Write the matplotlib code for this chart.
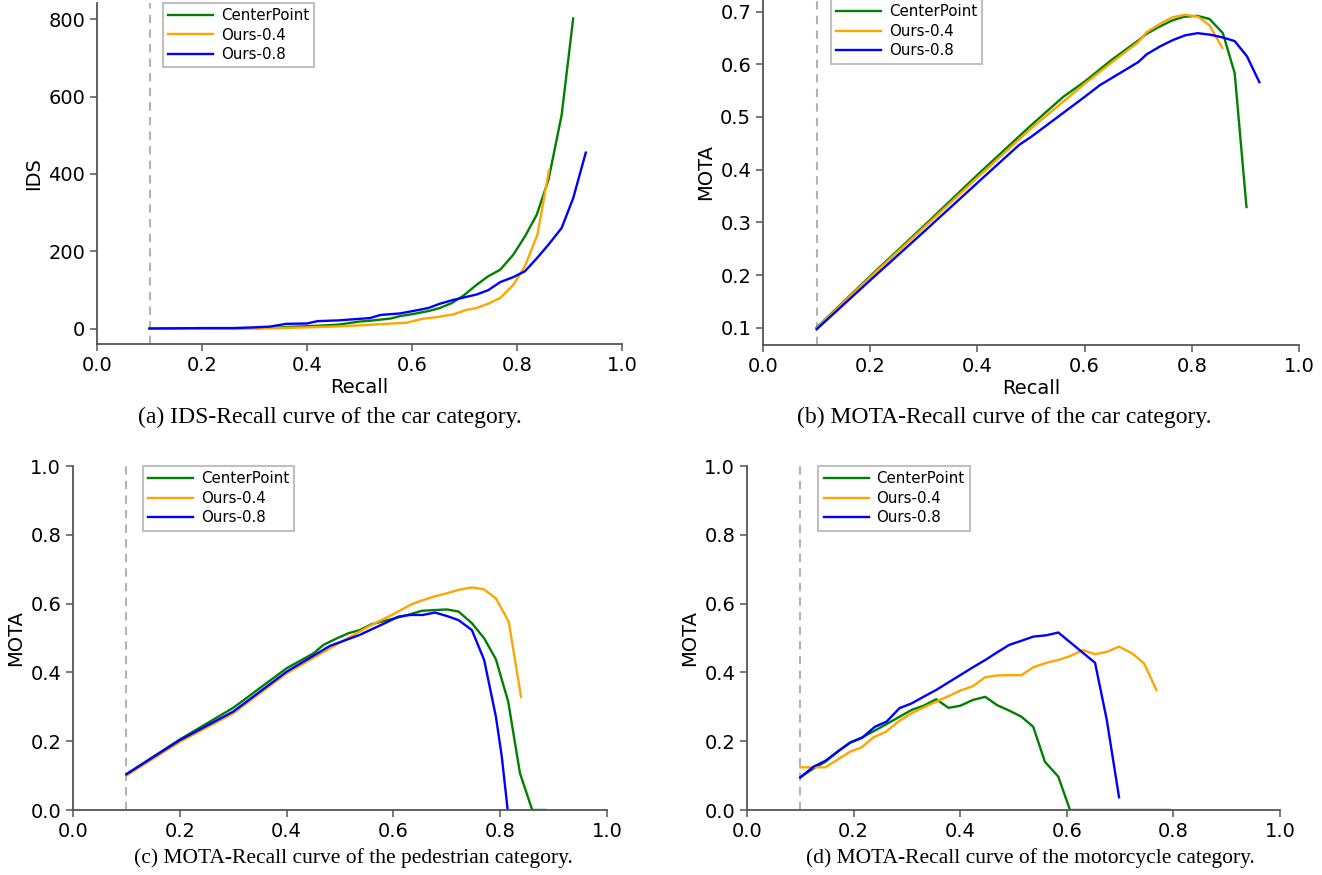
import matplotlib
matplotlib.use("Agg")
import matplotlib.pyplot as plt

plt.rcParams['font.family'] = ['DejaVu Sans']

labels = ["CenterPoint", "Ours-0.4", "Ours-0.8"]
colors = ["green", "orange", "blue"]

# (a) IDS-Recall, car
a_cp_r = [0.1, 0.2, 0.3, 0.34, 0.38, 0.42, 0.46, 0.48, 0.50, 0.52, 0.56, 0.577, 0.6, 0.631,
          0.653, 0.676, 0.698, 0.723, 0.745, 0.768, 0.793, 0.815, 0.8375, 0.86, 0.885, 0.907]
a_cp_v = [0, 1, 1, 2, 5, 7, 10, 14, 18, 20, 26, 32, 37, 45,
          53, 66, 85, 113, 135, 152, 191, 238, 294, 385, 552, 802]
a_o4_r = [0.1, 0.2, 0.3, 0.35, 0.4, 0.45, 0.5, 0.55, 0.59, 0.62, 0.65, 0.68, 0.70, 0.723,
          0.745, 0.768, 0.793, 0.815, 0.839, 0.861]
a_o4_v = [0, 0, 0, 1, 3, 5, 8, 12, 15, 25, 30, 37, 47, 53,
          64, 79, 113, 161, 243, 410]
a_o8_r = [0.1, 0.2, 0.26, 0.30, 0.33, 0.36, 0.40, 0.42, 0.46, 0.50, 0.52, 0.54, 0.577, 0.609,
          0.631, 0.653, 0.676, 0.701, 0.723, 0.745, 0.768, 0.793, 0.815, 0.838, 0.86, 0.885,
          0.907, 0.931]
a_o8_v = [0, 1, 1, 3, 5, 12, 13, 19, 21, 25, 27, 35, 39, 47,
          53, 64, 73, 81, 88, 99, 120, 133, 148, 182, 217, 260,
          337, 455]

# (b) MOTA-Recall, car
b_cp_r = [0.1, 0.2, 0.3, 0.4, 0.5, 0.56, 0.6, 0.65, 0.7, 0.716, 0.741, 0.763, 0.785, 0.81,
          0.833, 0.858, 0.88, 0.902]
b_cp_v = [0.100, 0.198, 0.293, 0.390, 0.484, 0.538, 0.567, 0.608, 0.645, 0.658, 0.672, 0.683,
          0.690, 0.692, 0.686, 0.659, 0.583, 0.329]
b_o4_r = [0.1, 0.2, 0.3, 0.4, 0.5, 0.6, 0.65, 0.7, 0.716, 0.741, 0.763, 0.788, 0.812, 0.833,
          0.857]
b_o4_v = [0.099, 0.196, 0.290, 0.385, 0.478, 0.563, 0.603, 0.642, 0.661, 0.677, 0.689, 0.694,
          0.690, 0.674, 0.631]
b_o8_r = [0.1, 0.2, 0.3, 0.4, 0.478, 0.5, 0.6, 0.628, 0.7, 0.716, 0.741, 0.765, 0.788, 0.811,
          0.835, 0.857, 0.88, 0.903, 0.926]
b_o8_v = [0.097, 0.190, 0.282, 0.375, 0.447, 0.462, 0.538, 0.560, 0.604, 0.619, 0.634, 0.646,
          0.655, 0.659, 0.656, 0.651, 0.644, 0.615, 0.566]

# (c) MOTA-Recall, pedestrian
c_cp_r = [0.1, 0.2, 0.3, 0.4, 0.45, 0.469, 0.494, 0.516, 0.537, 0.559, 0.584, 0.609, 0.631,
          0.653, 0.675, 0.700, 0.722, 0.747, 0.770, 0.792, 0.815, 0.837, 0.860, 0.885]
c_cp_v = [0.104, 0.205, 0.297, 0.412, 0.455, 0.480, 0.499, 0.514, 0.523, 0.540, 0.550, 0.560,
          0.569, 0.579, 0.581, 0.583, 0.577, 0.543, 0.499, 0.438, 0.315, 0.107, 0.0, 0.0]
c_o4_r = [0.1, 0.2, 0.3, 0.4, 0.481, 0.559, 0.584, 0.609, 0.634, 0.653, 0.675, 0.700, 0.722,
          0.747, 0.769, 0.792, 0.816, 0.839]
c_o4_v = [0.100, 0.198, 0.281, 0.397, 0.470, 0.538, 0.557, 0.577, 0.598, 0.609, 0.620, 0.630,
          0.640, 0.647, 0.642, 0.615, 0.547, 0.329]
c_o8_r = [0.1, 0.2, 0.3, 0.4, 0.481, 0.537, 0.559, 0.584, 0.609, 0.631, 0.655, 0.678, 0.700,
          0.722, 0.747, 0.770, 0.792, 0.803, 0.814]
c_o8_v = [0.104, 0.203, 0.286, 0.402, 0.477, 0.509, 0.525, 0.543, 0.562, 0.567, 0.567, 0.574,
          0.564, 0.552, 0.523, 0.436, 0.271, 0.155, 0.0]

# (d) MOTA-Recall, motorcycle
d_cp_r = [0.1, 0.125, 0.147, 0.172, 0.194, 0.216, 0.24, 0.262, 0.286, 0.309, 0.331, 0.355,
          0.378, 0.40, 0.424, 0.447, 0.469, 0.492, 0.515, 0.537, 0.559, 0.584, 0.606, 0.793]
d_cp_v = [0.095, 0.121, 0.140, 0.172, 0.197, 0.211, 0.231, 0.250, 0.271, 0.291, 0.303, 0.322,
          0.297, 0.303, 0.320, 0.329, 0.305, 0.289, 0.271, 0.242, 0.140, 0.097, 0.0, 0.0]
d_o4_r = [0.1, 0.147, 0.194, 0.215, 0.237, 0.261, 0.284, 0.306, 0.331, 0.355, 0.378, 0.40,
          0.424, 0.447, 0.469, 0.490, 0.515, 0.537, 0.562, 0.584, 0.607, 0.630, 0.653, 0.676,
          0.698, 0.723, 0.745, 0.768]
d_o4_v = [0.124, 0.124, 0.170, 0.182, 0.211, 0.228, 0.257, 0.279, 0.298, 0.315, 0.331, 0.347,
          0.360, 0.386, 0.391, 0.392, 0.392, 0.415, 0.428, 0.436, 0.448, 0.465, 0.453, 0.460,
          0.475, 0.455, 0.426, 0.349]
d_o8_r = [0.1, 0.125, 0.147, 0.172, 0.194, 0.216, 0.240, 0.262, 0.286, 0.309, 0.331, 0.355,
          0.378, 0.40, 0.424, 0.447, 0.469, 0.492, 0.515, 0.537, 0.562, 0.584, 0.653, 0.675,
          0.698]
d_o8_v = [0.095, 0.126, 0.143, 0.172, 0.196, 0.210, 0.242, 0.257, 0.296, 0.310, 0.329, 0.349,
          0.371, 0.392, 0.415, 0.436, 0.458, 0.480, 0.492, 0.504, 0.508, 0.516, 0.428, 0.262,
          0.037]

captions = ["(a) IDS-Recall curve of the car category.",
            "(b) MOTA-Recall curve of the car category.",
            "(c) MOTA-Recall curve of the pedestrian category.",
            "(d) MOTA-Recall curve of the motorcycle category."]

W, H = 1322, 875
fig = plt.figure(figsize=(W / 100, H / 100), dpi=100)


def px_axes(x0, x1, ytop, ybot):
    return fig.add_axes([x0 / W, (H - ybot) / H, (x1 - x0) / W, (ybot - ytop) / H])


def panel(ax, series, ylabel, xlabel, leg_anchor, ylim=None):
    ax.axvline(0.1, color="#b3b3b3", ls="--", lw=1.5, dashes=(4, 3))
    for (r, v), lab, c in zip(series, labels, colors):
        ax.plot(r, v, color=c, lw=1.7, label=lab)
    ax.set_xlim(0, 1)
    if ylim is not None:
        ax.set_ylim(*ylim)
    for s in ["top", "right"]:
        ax.spines[s].set_visible(False)
    for s in ["left", "bottom"]:
        ax.spines[s].set_color("#555555")
        ax.spines[s].set_linewidth(1.3)
    ax.tick_params(labelsize=14, length=5, width=1.1, color="#555555")
    ax.set_ylabel(ylabel, fontsize=14)
    if xlabel:
        ax.set_xlabel(xlabel, fontsize=14, labelpad=2)
    leg = ax.legend(loc="upper left", bbox_to_anchor=leg_anchor, borderaxespad=0,
                    fontsize=10.8, labelspacing=0.3, handlelength=3.0,
                    handletextpad=0.5, borderpad=0.35, fancybox=False, framealpha=1)
    leg.get_frame().set_edgecolor("#c0c0c0")
    leg.get_frame().set_linewidth(1.5)


ax_a = px_axes(97, 622, 3, 344)
panel(ax_a, [(a_cp_r, a_cp_v), (a_o4_r, a_o4_v), (a_o8_r, a_o8_v)], "IDS", "Recall",
      (0.126, 1.0))
ax_a.set_yticks([0, 200, 400, 600, 800])

ax_b = px_axes(763, 1299, -1, 345)
panel(ax_b, [(b_cp_r, b_cp_v), (b_o4_r, b_o4_v), (b_o8_r, b_o8_v)], "MOTA", "Recall",
      (0.127, 1.0))

ax_c = px_axes(73, 607, 466, 810)
panel(ax_c, [(c_cp_r, c_cp_v), (c_o4_r, c_o4_v), (c_o8_r, c_o8_v)], "MOTA", None,
      (0.131, 1.0), ylim=(0, 1))

ax_d = px_axes(747, 1280, 466, 810)
panel(ax_d, [(d_cp_r, d_cp_v), (d_o4_r, d_o4_v), (d_o8_r, d_o8_v)], "MOTA", None,
      (0.134, 1.0), ylim=(0, 1))

cap_pos = [(330, 417, 17), (1004, 417, 17), (353, 858, 15.5), (1030, 858, 15.5)]
for txt, (cx, cy, fs) in zip(captions, cap_pos):
    fig.text(cx / W, 1 - cy / H, txt, ha="center", va="center", fontsize=fs,
             family="Liberation Serif")

fig.savefig("out.png", dpi=100)
